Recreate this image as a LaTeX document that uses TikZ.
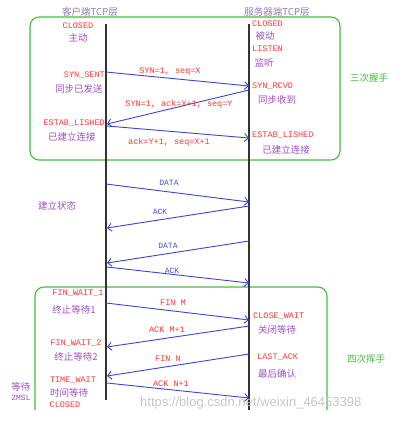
\documentclass[tikz,border=0pt]{standalone}
\usepackage{fontspec}
\setmainfont{Liberation Mono}
\newfontfamily\cjk{Noto Sans CJK SC}
\newfontfamily\wmfont{Liberation Sans}
\usetikzlibrary{arrows.meta}
\definecolor{tred}{HTML}{FF3838}
\definecolor{tpur}{HTML}{A050C0}
\definecolor{ttitle}{HTML}{9A78B8}
\definecolor{tgrn}{HTML}{44BB44}
\definecolor{tblu}{HTML}{3A44D8}
\definecolor{tdl}{HTML}{4A4ACC}
\begin{document}
\begin{tikzpicture}[x=1pt,y=-1pt,
  st/.style={text=tred,font=\fontsize{8.5}{9}\selectfont,inner sep=0pt},
  cn/.style={text=tpur,font=\cjk\fontsize{9.5}{10}\selectfont,inner sep=0pt},
  ttl/.style={text=ttitle,font=\cjk\fontsize{9.5}{10}\selectfont,inner sep=0pt},
  grp/.style={text=tgrn,font=\cjk\fontsize{9.5}{10}\selectfont,inner sep=0pt},
  ml/.style={text=tred,font=\fontsize{8.5}{9}\selectfont,inner sep=0pt},
  dl/.style={text=tdl,font=\fontsize{8}{9}\selectfont,inner sep=0pt},
  msg/.style={draw=tblu,line width=0.9pt,-{Straight Barb[length=4pt,width=8pt]}},
  life/.style={draw=black!80,line width=1.3pt},
  gbox/.style={draw=tgrn,line width=1.1pt,rounded corners=9pt}
]
\useasboundingbox (0,0) rectangle (420,421);

% green boxes
\draw[gbox] (30,17) rectangle (340,160);
\draw[gbox] (35,410) -- (35,287) -- (327,287) -- (327,410);

% lifelines
\coordinate (ct) at (106,24);
\coordinate (cb) at (106,400);
\coordinate (svt) at (249,24);
\coordinate (svb) at (249,410);
\draw[life] (ct) -- (cb);
\draw[life] (svt) -- (svb);

% titles
\node[ttl] (t1) at (90,12) {客户端TCP层};
\node[ttl] (t2) at (277,12) {服务器端TCP层};

% client states
\node[st] (cclosed) at (78,26) {CLOSED};
\node[cn] (czd) at (78,38) {主动};
\node[st,anchor=east] (csent) at (105,75) {SYN\_SENT};
\node[cn] (csentc) at (79,89) {同步已发送};
\node[st,anchor=east] (cest) at (105,123) {ESTAB\_LISHED};
\node[cn] (cestc) at (72,137) {已建立连接};

% server states
\node[st,anchor=west] (sclosed) at (252,24) {CLOSED};
\node[cn] (sbd) at (265,36) {被动};
\node[st,anchor=west] (slisten) at (252,49) {LISTEN};
\node[cn] (sjt) at (264,63) {监听};
\node[st,anchor=west] (srcvd) at (252,86) {SYN\_RCVD};
\node[cn] (srcvdc) at (277,100) {同步收到};
\node[st,anchor=west] (sest) at (252,135) {ESTAB\_LISHED};
\node[cn] (sestc) at (286,150) {已建立连接};
\node[grp] (sanci) at (369,78) {三次握手};

% handshake
\coordinate (h1a) at (106,72);
\coordinate (h1b) at (249,86);
\coordinate (h2a) at (249,90);
\coordinate (h2b) at (107,124);
\coordinate (h3a) at (107,126);
\coordinate (h3b) at (249,138);
\draw[msg] (h1a) -- (h1b);
\draw[msg] (h2a) -- (h2b);
\draw[msg] (h3a) -- (h3b);
\node[ml] (l1) at (170,72) {SYN=1, seq=X};
\node[ml] (l2) at (179,104) {SYN=1, ack=X+1, seq=Y};
\node[ml] (l3) at (169,142) {ack=Y+1, seq=X+1};

% data transfer
\coordinate (d1a) at (106,184);
\coordinate (d1b) at (249,202);
\coordinate (d2a) at (249,206);
\coordinate (d2b) at (107,228);
\coordinate (d3a) at (249,241);
\coordinate (d3b) at (107,263);
\coordinate (d4a) at (107,267);
\coordinate (d4b) at (249,283);
\draw[msg] (d1a) -- (d1b);
\draw[msg] (d2a) -- (d2b);
\draw[msg] (d3a) -- (d3b);
\draw[msg] (d4a) -- (d4b);
\node[dl] (dl1) at (169,183) {DATA};
\node[dl] (dl2) at (160,212) {ACK};
\node[dl] (dl3) at (168,246) {DATA};
\node[dl] (dl4) at (172,271) {ACK};
\node[cn] (jlzt) at (57,206) {建立状态};

% termination
\node[st] (fw1) at (78,293) {FIN\_WAIT\_1};
\node[cn] (fw1c) at (74,310) {终止等待1};
\node[st] (fw2) at (76,343) {FIN\_WAIT\_2};
\node[cn] (fw2c) at (76,357) {终止等待2};
\node[st] (tw) at (73,380) {TIME\_WAIT};
\node[cn] (twc) at (69,393) {时间等待};
\node[st] (cclosed2) at (65,405) {CLOSED};
\node[cn] (dd) at (21,387) {等待};
\node[cn,font=\fontsize{8}{9}\selectfont] (msl) at (21,398) {2MSL};
\node[st,anchor=west] (cw) at (253,316) {CLOSE\_WAIT};
\node[cn] (cwc) at (277,330) {关闭等待};
\node[st,anchor=west] (la) at (257,357) {LAST\_ACK};
\node[cn] (lac) at (277,374) {最后确认};
\node[grp] (sici) at (366,359) {四次挥手};

\coordinate (f1a) at (106,303);
\coordinate (f1b) at (249,320);
\coordinate (f2a) at (249,326);
\coordinate (f2b) at (107,347);
\coordinate (f3a) at (249,354);
\coordinate (f3b) at (107,376);
\coordinate (f4a) at (107,383);
\coordinate (f4b) at (249,398);
\draw[msg] (f1a) -- (f1b);
\draw[msg] (f2a) -- (f2b);
\draw[msg] (f3a) -- (f3b);
\draw[msg] (f4a) -- (f4b);
\node[ml] (fl1) at (173,303) {FIN M};
\node[ml] (fl2) at (167,330) {ACK M+1};
\node[ml] (fl3) at (168,359) {FIN N};
\node[ml] (fl4) at (171,384) {ACK N+1};

% watermark
\node[text=black!22,font=\wmfont\fontsize{13}{14}\selectfont,inner sep=0pt,anchor=west] (wm) at (140,403) {https://blog.csdn.net/weixin\_46453398};
\end{tikzpicture}
\end{document}
